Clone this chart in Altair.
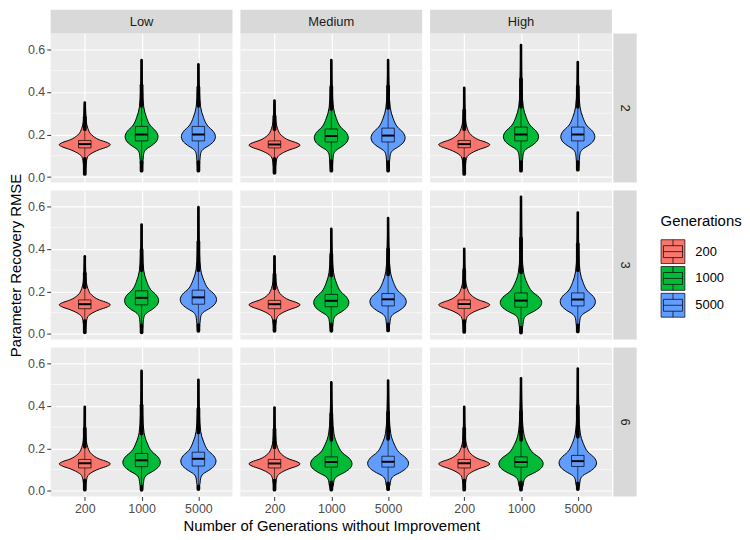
import altair as alt
import pandas as pd

ROWS = ["2", "3", "6"]
COLS = ["Low", "Medium", "High"]
GENS = ["200", "1000", "5000"]
COLORS = ["#F8766D", "#00BA38", "#619CFF"]
GEN_POS = [1, 2, 3]

# per violin, ordered row -> column -> generations
tip_lo = [.015, .03, .03, .02, .03, .03, .015, .03, .035,
          .008, .008, .015, .015, .015, .017, .01, .007, .012,
          .006, .005, .009, .006, .006, .008, .006, .006, .009]
tip_hi = [.35, .55, .53, .36, .55, .55, .42, .62, .54,
          .365, .514, .596, .365, .494, .545, .40, .645, .571,
          .395, .565, .522, .392, .511, .519, .395, .529, .575]
mode = [.152, .19, .19, .15, .185, .185, .152, .19, .19,
        .137, .157, .162, .137, .148, .152, .137, .148, .152,
        .127, .135, .14, .127, .128, .13, .127, .128, .132]
half_width = [.45, .29, .30, .45, .30, .30, .45, .31, .30,
              .45, .30, .32, .45, .31, .32, .45, .365, .31,
              .45, .33, .31, .45, .365, .36, .45, .39, .33]
q1 = [.137, .17, .17, .137, .165, .165, .138, .17, .17,
      .119, .137, .14, .119, .128, .132, .12, .126, .132,
      .108, .114, .117, .108, .112, .112, .108, .112, .115]
median = [.155, .20, .20, .153, .193, .195, .155, .20, .20,
          .14, .17, .172, .14, .156, .163, .141, .157, .162,
          .13, .144, .151, .129, .136, .137, .13, .136, .14]
q3 = [.172, .238, .238, .17, .226, .23, .172, .235, .235,
      .16, .203, .206, .158, .186, .19, .16, .193, .193,
      .148, .176, .182, .148, .16, .163, .148, .16, .167]
whisker_lo = [.085, .07, .07, .085, .075, .07, .085, .07, .07,
              .06, .04, .042, .06, .045, .045, .06, .03, .04,
              .048, .02, .02, .048, .04, .035, .048, .04, .035]
whisker_hi = [.225, .335, .335, .225, .32, .325, .225, .33, .33,
              .22, .30, .30, .215, .275, .28, .22, .29, .30,
              .208, .27, .275, .205, .24, .245, .21, .24, .255]

# violin outline profiles: offset from the widest point, share of the max half-width
RED_OFFSET = [-0.075, -0.055, -0.045, -0.023, -0.01, 0, 0.01, 0.023, 0.046, 0.077, 0.11, 0.16]
RED_FRAC = [0.07, 0.12, 0.21, 0.57, 0.88, 1.0, 0.88, 0.57, 0.27, 0.12, 0.06, 0.035]
GB_OFFSET = [-0.10, -0.08, -0.06, -0.04, -0.02, 0, 0.025, 0.05, 0.09, 0.14, 0.22]
GB_FRAC = [0.1, 0.13, 0.27, 0.65, 0.92, 1.0, 0.87, 0.55, 0.3, 0.13, 0.06]
TIP_HW = 0.012
BOX_HW = 0.11

FONT = "Liberation Sans"
W, H = 183, 150
YDOM = [-0.026, 0.674]
XDOM = [0.4, 3.6]

label_expr = " : ".join(
    f"datum.value == {p} ? '{g}'" for p, g in zip(GEN_POS[:-1], GENS[:-1])
) + f" : '{GENS[-1]}'"

color = alt.Color(
    "gen:N",
    scale=alt.Scale(domain=GENS, range=COLORS),
    legend=alt.Legend(title="Generations"),
)

panels = []
k = 0
for ri, r in enumerate(ROWS):
    for ci, c in enumerate(COLS):
        vrows, brows, thick, thin = [], [], [], []
        for gi, g in enumerate(GENS):
            i = k + gi
            cx = GEN_POS[gi]
            off, frac = (RED_OFFSET, RED_FRAC) if gi == 0 else (GB_OFFSET, GB_FRAC)
            pts = [(tip_lo[i], TIP_HW)]
            for o, f in zip(off, frac):
                y = mode[i] + o
                if tip_lo[i] < y < tip_hi[i]:
                    pts.append((y, f * half_width[i]))
            pts.append((tip_hi[i], TIP_HW * 0.6))
            for y, w in pts:
                vrows.append({"gen": g, "y": y, "xl": cx - w, "xr": cx + w})
            brows.append({"gen": g, "cx": cx, "xl": cx - BOX_HW, "xr": cx + BOX_HW,
                          "q1": q1[i], "med": median[i], "q3": q3[i],
                          "wlo": whisker_lo[i], "whi": whisker_hi[i]})
            split = whisker_hi[i] + 0.45 * (tip_hi[i] - whisker_hi[i])
            thick.append({"cx": cx, "a": tip_lo[i], "b": whisker_lo[i]})
            thick.append({"cx": cx, "a": whisker_hi[i], "b": split})
            thin.append({"cx": cx, "a": split, "b": tip_hi[i]})
        k += 3
        vdf = pd.DataFrame(vrows)
        bdf = pd.DataFrame(brows)

        left = ci == 0
        bottom = ri == len(ROWS) - 1
        ytitle = "Parameter Recovery RMSE" if (left and ri == 1) else None
        xtitle = "Number of Generations without Improvement" if (bottom and ci == 1) else None
        yaxis = alt.Axis(values=[0, 0.2, 0.4, 0.6], format=".1f", grid=True,
                         labels=left, ticks=left, domain=False, title=ytitle)
        xaxis = alt.Axis(values=GEN_POS, labelExpr=label_expr, grid=True,
                         labels=bottom, ticks=bottom, domain=False, title=xtitle)
        yscale = alt.Scale(domain=YDOM, nice=False, zero=False)
        xscale = alt.Scale(domain=XDOM, nice=False, zero=False)

        def X(f):
            return alt.X(f"{f}:Q", scale=xscale, axis=xaxis, stack=None)

        def Y(f):
            return alt.Y(f"{f}:Q", scale=yscale, axis=yaxis, stack=None)

        minor = alt.Chart(pd.DataFrame({"y": [0.1, 0.3, 0.5]})).mark_rule(
            color="white", strokeWidth=0.6).encode(y=Y("y"))
        violin = alt.Chart(vdf).mark_area(
            orient="horizontal", interpolate="monotone", stroke="black",
            strokeWidth=1.0, opacity=1).encode(
            y=Y("y"), x=X("xl"), x2="xr", fill=color)
        tails_thick = alt.Chart(pd.DataFrame(thick)).mark_rule(
            color="black", strokeWidth=3.8, strokeCap="round").encode(
            x=X("cx"), y=Y("a"), y2="b")
        tails_thin = alt.Chart(pd.DataFrame(thin)).mark_rule(
            color="black", strokeWidth=2.6, strokeCap="round").encode(
            x=X("cx"), y=Y("a"), y2="b")
        whisk_lo = alt.Chart(bdf).mark_rule(color="black", strokeWidth=0.6).encode(
            x=X("cx"), y=Y("wlo"), y2="q1")
        whisk_hi = alt.Chart(bdf).mark_rule(color="black", strokeWidth=0.6).encode(
            x=X("cx"), y=Y("q3"), y2="whi")
        box = alt.Chart(bdf).mark_rect(stroke="black", strokeWidth=0.7, opacity=1).encode(
            x=X("xl"), x2="xr", y=Y("q1"), y2="q3", fill=color)
        med = alt.Chart(bdf).mark_rule(color="black", strokeWidth=2).encode(
            x=X("xl"), x2="xr", y=Y("med"))

        layers = [minor, violin, tails_thick, tails_thin, whisk_lo, whisk_hi, box, med]
        if ri == 0:
            sdf = pd.DataFrame({"label": [c]})
            layers.append(alt.Chart(sdf).mark_rect(fill="#D9D9D9").encode(
                x=alt.value(0), x2=alt.value(W), y=alt.value(-24), y2=alt.value(0)))
            layers.append(alt.Chart(sdf).mark_text(
                font=FONT, fontSize=13, color="#1A1A1A").encode(
                x=alt.value(W / 2), y=alt.value(-12), text="label:N"))
        if ci == len(COLS) - 1:
            sdf = pd.DataFrame({"label": [r]})
            layers.append(alt.Chart(sdf).mark_rect(fill="#D9D9D9").encode(
                x=alt.value(W + 1.5), x2=alt.value(W + 25), y=alt.value(0), y2=alt.value(H)))
            layers.append(alt.Chart(sdf).mark_text(
                font=FONT, fontSize=13, color="#1A1A1A", angle=90).encode(
                x=alt.value(W + 13), y=alt.value(H / 2), text="label:N"))
        panels.append(alt.layer(*layers).properties(width=W, height=H))

legend_path = ("M-1,-1H1V1H-1Z M-0.8,-0.5H0.8V0.5H-0.8Z M-0.8,0H0.8 "
               "M0,-1V-0.5 M0,0.5V1")

chart = alt.concat(*panels, columns=3, spacing=8, bounds="flush").properties(
    padding=0
).configure_view(
    fill="#EBEBEB", stroke=None
).configure_axis(
    labelFont=FONT, labelFontSize=12.5, labelColor="#4D4D4D",
    tickColor="#333333", tickSize=4, tickWidth=1, labelPadding=2,
    titleFont=FONT, titleFontSize=15, titleFontWeight="normal", titleColor="black",
    gridColor="white", gridWidth=1.2, titlePadding=4,
).configure_legend(
    orient="none", legendX=614, legendY=182,
    titleFont=FONT, titleFontSize=15, titleFontWeight="normal", titleColor="black",
    labelFont=FONT, labelFontSize=13, labelColor="black",
    symbolType=legend_path, symbolSize=576, symbolStrokeColor="black",
    symbolStrokeWidth=0.7, rowPadding=0, labelOffset=10, titlePadding=10,
    symbolOpacity=1,
)

chart.save("out.html", embed_options={"renderer": "svg", "actions": False})
